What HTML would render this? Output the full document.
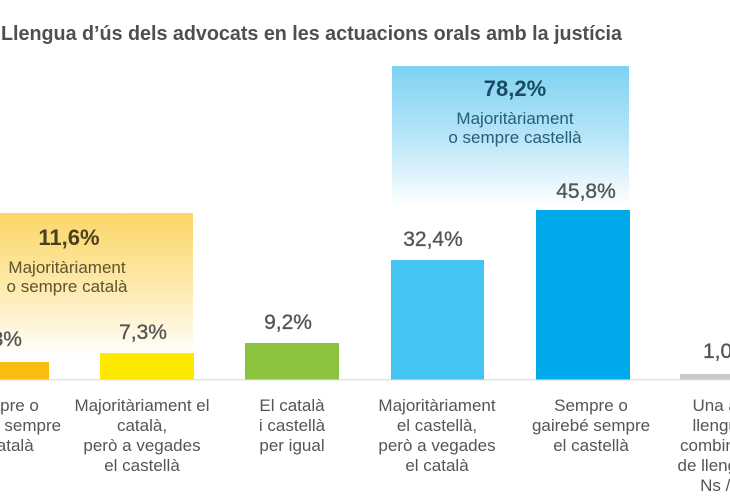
<!DOCTYPE html>
<html>
<head>
<meta charset="utf-8">
<style>
  html,body{margin:0;padding:0;background:#fff;}
  body{width:730px;height:500px;overflow:hidden;}
  svg{display:block;}
  text{font-family:"Liberation Sans",sans-serif;}
</style>
</head>
<body>
<svg width="730" height="500" viewBox="0 0 730 500" xmlns="http://www.w3.org/2000/svg">
  <defs>
    <linearGradient id="gy" x1="0" y1="0" x2="0" y2="1">
      <stop offset="0" stop-color="#fcd666"/>
      <stop offset="0.45" stop-color="#fde7a3"/>
      <stop offset="1" stop-color="#ffffff" stop-opacity="1"/>
    </linearGradient>
    <linearGradient id="gb" x1="0" y1="0" x2="0" y2="1">
      <stop offset="0" stop-color="#7ed2f3"/>
      <stop offset="0.5" stop-color="#b6e5f8"/>
      <stop offset="1" stop-color="#ffffff"/>
    </linearGradient>
  </defs>

  <rect width="730" height="500" fill="#fff"/>

  <!-- Title -->
  <text x="1" y="40" font-size="20" font-weight="bold" fill="#4f4f4f" textLength="621" lengthAdjust="spacingAndGlyphs">Llengua d’ús dels advocats en les actuacions orals amb la justícia</text>

  <!-- Group boxes -->
  <rect x="0" y="213" width="193" height="145" fill="url(#gy)"/>
  <rect x="392" y="66" width="237" height="140" fill="url(#gb)"/>

  <!-- Yellow box text -->
  <text x="69" y="245" font-size="22" font-weight="bold" fill="#4a3f1e" text-anchor="middle">11,6%</text>
  <text x="67" y="273" font-size="17" fill="#5e5230" text-anchor="middle">Majoritàriament</text>
  <text x="67" y="292" font-size="17" fill="#5e5230" text-anchor="middle">o sempre català</text>

  <!-- Blue box text -->
  <text x="515" y="96" font-size="22" font-weight="bold" fill="#1b4a62" text-anchor="middle">78,2%</text>
  <text x="515" y="124" font-size="17" fill="#275d78" text-anchor="middle">Majoritàriament</text>
  <text x="515" y="143" font-size="17" fill="#275d78" text-anchor="middle">o sempre castellà</text>

  <!-- Baseline -->
  <rect x="0" y="379" width="730" height="1.5" fill="#e3e3e3"/>

  <!-- Bars -->
  <rect x="-45" y="362" width="94" height="17.5" fill="#f9bd12"/>
  <rect x="100" y="353" width="94" height="26.5" fill="#fde900"/>
  <rect x="245" y="343" width="94" height="36.5" fill="#8cc43f"/>
  <rect x="391" y="260" width="93" height="119.5" fill="#44c5f1"/>
  <rect x="536" y="210" width="94" height="169.5" fill="#00aaea"/>
  <rect x="680" y="374" width="94" height="5.5" fill="#c9c9c9"/>

  <!-- Value labels -->
  <g font-size="21" fill="#555" stroke="#555" stroke-width="0.35" text-anchor="middle">
    <text x="-2" y="346">4,3%</text>
    <text x="143" y="339">7,3%</text>
    <text x="288" y="329">9,2%</text>
    <text x="433" y="246">32,4%</text>
    <text x="586" y="198">45,8%</text>
    <text x="703" y="358" text-anchor="start">1,0%</text>
  </g>

  <!-- Category labels -->
  <g font-size="17" fill="#555" text-anchor="middle">
    <text x="2" y="411">Sempre o</text>
    <text x="2" y="431">gairebé sempre</text>
    <text x="2" y="451">el català</text>

    <text x="142" y="411">Majoritàriament el</text>
    <text x="142" y="431">català,</text>
    <text x="142" y="451">però a vegades</text>
    <text x="142" y="471">el castellà</text>

    <text x="292" y="411">El català</text>
    <text x="292" y="431">i castellà</text>
    <text x="292" y="451">per igual</text>

    <text x="437" y="411">Majoritàriament</text>
    <text x="437" y="431">el castellà,</text>
    <text x="437" y="451">però a vegades</text>
    <text x="437" y="471">el català</text>

    <text x="591" y="411">Sempre o</text>
    <text x="591" y="431">gairebé sempre</text>
    <text x="591" y="451">el castellà</text>

    <text x="727" y="411">Una altra</text>
    <text x="727" y="431">llengua o</text>
    <text x="723" y="451">combinació</text>
    <text x="721" y="471">de llengües</text>
    <text x="728" y="491">Ns / Nc</text>
  </g>
</svg>
</body>
</html>
